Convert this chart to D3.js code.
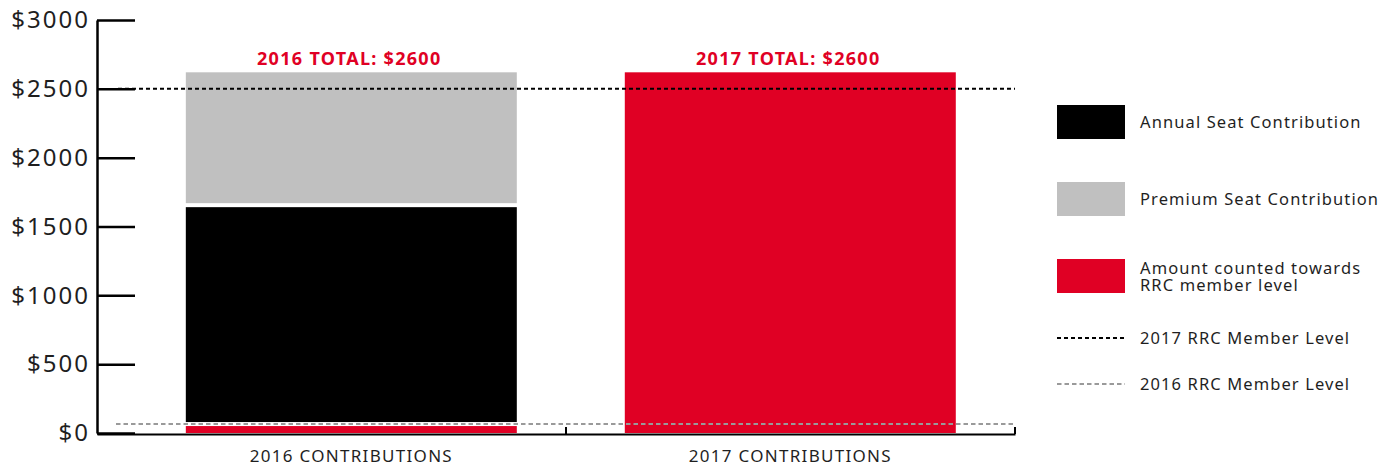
<!DOCTYPE html>
<html>
<head>
<meta charset="utf-8">
<script src="https://cdn.jsdelivr.net/npm/d3@7"></script>
<style>
  html, body { margin: 0; padding: 0; background: #fff; }
  svg { display: block; font-family: "Noto Sans", "Open Sans", sans-serif; }
</style>
</head>
<body>
<svg id="chart" width="1395" height="466"></svg>
<script>
// ---- data ----
const categories = ["2016 CONTRIBUTIONS", "2017 CONTRIBUTIONS"];
const countedValues = [65, 2620];   // Amount counted towards RRC member level
const annualValues  = [1590, 0];    // Annual Seat Contribution
const premiumValues = [965, 0];     // Premium Seat Contribution
const totalLabels = ["2016 TOTAL: $2600", "2017 TOTAL: $2600"];
const level2017 = 2500;
const level2016 = 65;
const yTickValues = [0, 500, 1000, 1500, 2000, 2500, 3000];
const seriesNames = ["Amount counted towards RRC member level", "Annual Seat Contribution", "Premium Seat Contribution"];
const legendBoxes = ["Annual Seat Contribution", "Premium Seat Contribution", "Amount counted towards|RRC member level"];
const legendLines = ["2017 RRC Member Level", "2016 RRC Member Level"];

// ---- styles ----
const RED = "#e00024", BLACK = "#000000", GRAY = "#c0c0c0", DGRAY = "#9a9a9a", TEXT = "#1f1f1f";
const colorOf = {};
colorOf[seriesNames[0]] = RED; colorOf[seriesNames[1]] = BLACK; colorOf[seriesNames[2]] = GRAY;

const svg = d3.select("#chart");
const x = d3.scaleBand().domain(categories).range([97, 1015])
  .paddingInner(0.246).paddingOuter(0.1686).align(0.6);
const xTicks = d3.scaleBand().domain(categories).range([117, 1015]).padding(0);
const y = d3.scaleLinear().domain([0, 3000]).range([433, 20]);

// stacked data
const rows = categories.map((c, i) => {
  const r = { cat: c };
  r[seriesNames[0]] = countedValues[i];
  r[seriesNames[1]] = annualValues[i];
  r[seriesNames[2]] = premiumValues[i];
  return r;
});
const stack = d3.stack().keys(seriesNames)(rows);
const GAP = 2;
const tops = categories.map((c, i) => countedValues[i] + annualValues[i] + premiumValues[i]);

svg.append("g").selectAll("g").data(stack).join("g")
  .attr("fill", d => colorOf[d.key])
  .selectAll("rect").data(d => d.filter(p => p[1] > p[0])).join("rect")
  .attr("x", d => x(d.data.cat))
  .attr("width", x.bandwidth())
  .attr("y", d => {
    const i = categories.indexOf(d.data.cat);
    return y(d[1]) + (d[1] < tops[i] ? GAP : 0);
  })
  .attr("height", d => {
    const i = categories.indexOf(d.data.cat);
    const t = y(d[1]) + (d[1] < tops[i] ? GAP : 0);
    const b = y(d[0]) - (d[0] > 0 ? GAP : 0);
    return b - t;
  });

// total labels
svg.append("g").selectAll("text").data(categories).join("text")
  .attr("x", d => x(d) + x.bandwidth() / 2 - 2)
  .attr("y", (d, i) => y(tops[i]) - 7)
  .attr("text-anchor", "middle")
  .attr("fill", RED)
  .attr("font-weight", 700)
  .attr("font-size", 18)
  .attr("letter-spacing", 1.3)
  .text((d, i) => totalLabels[i]);

// reference lines
svg.append("line")
  .attr("x1", 118).attr("x2", 1015)
  .attr("y1", y(level2017)).attr("y2", y(level2017))
  .attr("stroke", BLACK).attr("stroke-width", 2).attr("stroke-dasharray", "4,3");
svg.append("line")
  .attr("x1", 116).attr("x2", 1013)
  .attr("y1", y(level2016)).attr("y2", y(level2016))
  .attr("stroke", DGRAY).attr("stroke-width", 2).attr("stroke-dasharray", "4.5,3");

// y axis
const yAxis = svg.append("g").attr("transform", "translate(97,0)")
  .call(d3.axisLeft(y).tickValues(yTickValues).tickFormat(d => "$" + d)
    .tickSizeInner(-38).tickSizeOuter(0).tickPadding(7));
yAxis.select(".domain").attr("stroke", BLACK).attr("stroke-width", 2.5);
yAxis.selectAll(".tick line").attr("stroke", BLACK).attr("stroke-width", 2.5);
yAxis.selectAll(".tick text").attr("font-size", 24).attr("fill", TEXT)
  .attr("font-family", "Noto Sans").attr("letter-spacing", 2);

// x axis
const xAxis = svg.append("g").attr("transform", "translate(0,434)")
  .call(d3.axisBottom(x).tickSize(0).tickPadding(16));
xAxis.select(".domain").attr("stroke", BLACK).attr("stroke-width", 2);
xAxis.selectAll(".tick text").attr("font-size", 17).attr("fill", TEXT)
  .attr("font-family", "Noto Sans").attr("letter-spacing", 1.3);
svg.append("g").selectAll("line").data(categories).join("line")
  .attr("x1", d => xTicks(d) + xTicks.bandwidth())
  .attr("x2", d => xTicks(d) + xTicks.bandwidth())
  .attr("y1", 434).attr("y2", 427)
  .attr("stroke", BLACK).attr("stroke-width", 2);

// legend
const lg = svg.append("g").attr("transform", "translate(1057,0)");
const boxY = [105, 182, 259];
const boxColors = [BLACK, GRAY, RED];
legendBoxes.forEach((t, i) => {
  lg.append("rect").attr("x", 0).attr("y", boxY[i]).attr("width", 68).attr("height", 34).attr("fill", boxColors[i]);
  const parts = t.split("|");
  const cy = boxY[i] + 17;
  const start = cy - (parts.length - 1) * 8.5 + 6;
  parts.forEach((p, k) => {
    lg.append("text").attr("x", 83).attr("y", start + k * 17)
      .attr("font-size", 16.5).attr("fill", TEXT).attr("letter-spacing", 1.1).text(p);
  });
});
const lineY = [338, 384];
const lineStyles = [{ c: BLACK, d: "4,3" }, { c: DGRAY, d: "4.5,3" }];
legendLines.forEach((t, i) => {
  lg.append("line").attr("x1", 0).attr("x2", 68).attr("y1", lineY[i]).attr("y2", lineY[i])
    .attr("stroke", lineStyles[i].c).attr("stroke-width", 2).attr("stroke-dasharray", lineStyles[i].d);
  lg.append("text").attr("x", 83).attr("y", lineY[i] + 6).attr("font-size", 16.5)
    .attr("fill", TEXT).attr("letter-spacing", 1.1).text(t);
});
</script>
</body>
</html>
